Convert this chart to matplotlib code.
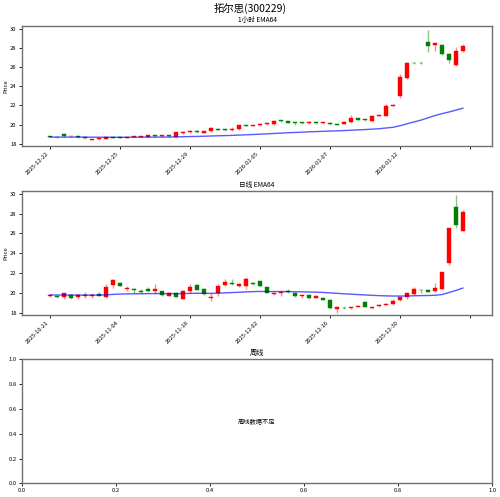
import matplotlib
matplotlib.use("Agg")
import matplotlib.pyplot as plt
import numpy as np
import pandas as pd

plt.rcParams['font.family'] = ['Noto Sans CJK SC', 'DejaVu Sans']
plt.rcParams['axes.unicode_minus'] = False

title = "拓尔思(300229)"

# ---- hourly (1小时) OHLC ----
h_open  = [18.72, 18.70, 19.00, 18.75, 18.75, 18.65, 18.40, 18.45, 18.50, 18.65,
           18.65, 18.60, 18.70, 18.72, 18.70, 18.90, 18.75, 18.90, 18.70, 19.10,
           19.20, 19.35, 19.15, 19.30, 19.55, 19.50, 19.45, 19.50, 19.90, 19.85,
           19.90, 20.05, 20.05, 20.40, 20.35, 20.20, 20.20, 20.15, 20.20, 20.15,
           20.20, 20.05, 20.10, 20.25, 20.65, 20.50, 20.35, 20.90, 20.90, 21.95,
           22.95, 24.90, 26.45, 26.45, 28.65, 28.30, 28.35, 27.35, 26.20, 27.65]
h_high  = [18.75, 18.72, 19.10, 18.82, 18.78, 18.68, 18.52, 18.58, 18.70, 18.68,
           18.68, 18.72, 18.78, 18.82, 18.90, 18.95, 18.95, 18.95, 19.25, 19.30,
           19.40, 19.40, 19.35, 19.70, 19.60, 19.55, 19.70, 20.00, 19.95, 19.95,
           20.20, 20.15, 20.45, 20.45, 20.40, 20.25, 20.25, 20.35, 20.35, 20.25,
           20.25, 20.10, 20.40, 21.00, 20.70, 20.55, 21.00, 21.15, 22.10, 22.10,
           25.30, 26.50, 26.50, 26.50, 29.85, 28.55, 28.45, 27.45, 28.10, 28.45]
h_low   = [18.65, 18.62, 18.70, 18.72, 18.62, 18.52, 18.35, 18.40, 18.45, 18.55,
           18.55, 18.55, 18.65, 18.68, 18.65, 18.70, 18.70, 18.70, 18.65, 19.05,
           19.15, 19.15, 19.10, 19.25, 19.40, 19.35, 19.35, 19.40, 19.80, 19.80,
           19.80, 20.00, 20.00, 20.30, 20.15, 20.00, 20.10, 20.10, 20.10, 20.10,
           20.00, 19.95, 20.05, 20.20, 20.45, 20.40, 20.30, 20.85, 20.85, 21.90,
           22.75, 24.75, 26.35, 26.35, 27.55, 27.70, 27.25, 26.45, 26.15, 27.60]
h_close = [18.68, 18.65, 18.75, 18.80, 18.65, 18.55, 18.50, 18.55, 18.65, 18.60,
           18.60, 18.70, 18.75, 18.80, 18.85, 18.75, 18.90, 18.75, 19.20, 19.25,
           19.35, 19.20, 19.30, 19.65, 19.45, 19.45, 19.55, 19.95, 19.85, 19.90,
           20.05, 20.10, 20.35, 20.35, 20.20, 20.15, 20.15, 20.30, 20.15, 20.20,
           20.05, 20.00, 20.30, 20.70, 20.50, 20.45, 20.90, 21.00, 21.95, 22.05,
           25.00, 26.45, 26.40, 26.40, 28.25, 28.50, 27.35, 26.75, 27.70, 28.20]
h_tick_labels = ["2025-12-22", "2025-12-25", "2025-12-29", "2026-01-05",
                 "2026-01-07", "2026-01-12"]

# ---- daily (日线) OHLC ----
d_open  = [19.70, 19.65, 19.55, 19.80, 19.55, 19.65, 19.70, 19.85, 19.55, 20.85,
           21.05, 20.40, 20.40, 20.15, 20.35, 20.20, 20.15, 19.70, 20.00, 19.40,
           20.15, 20.85, 20.40, 19.50, 19.95, 20.80, 21.00, 20.75, 20.75, 21.00,
           21.20, 20.60, 19.90, 20.00, 20.15, 20.00, 19.65, 19.80, 19.50, 19.50,
           19.30, 18.40, 18.50, 18.45, 18.60, 19.05, 18.45, 18.65, 18.80, 18.85,
           19.25, 19.55, 19.90, 20.30, 20.25, 20.20, 20.40, 23.00, 28.65, 26.25]
d_high  = [19.90, 19.70, 20.00, 19.85, 19.90, 20.10, 20.00, 20.10, 20.90, 21.45,
           21.15, 20.70, 20.45, 20.40, 20.60, 20.90, 20.20, 20.05, 20.05, 20.30,
           20.90, 20.90, 20.45, 20.00, 20.90, 21.40, 21.40, 21.00, 21.65, 21.10,
           21.25, 20.65, 20.05, 20.20, 20.35, 20.05, 19.85, 19.85, 19.75, 19.55,
           19.35, 18.70, 18.65, 18.60, 18.75, 19.15, 18.60, 18.85, 18.95, 19.35,
           19.60, 20.05, 20.55, 20.35, 20.40, 21.00, 22.15, 26.55, 29.90, 28.40]
d_low   = [19.60, 19.50, 19.40, 19.35, 19.40, 19.50, 19.50, 19.65, 19.50, 20.50,
           20.70, 20.20, 20.00, 19.95, 20.10, 19.90, 19.70, 19.65, 19.55, 19.40,
           20.00, 20.25, 19.80, 19.20, 19.70, 20.70, 20.85, 20.60, 20.40, 20.80,
           20.65, 19.95, 19.75, 19.70, 20.00, 19.60, 19.50, 19.40, 19.45, 19.25,
           18.40, 18.00, 18.35, 18.40, 18.55, 18.55, 18.40, 18.60, 18.75, 18.80,
           19.20, 19.35, 19.80, 20.00, 20.05, 20.05, 20.35, 22.85, 26.50, 26.20]
d_close = [19.80, 19.55, 20.00, 19.45, 19.75, 19.80, 19.80, 19.70, 20.60, 21.35,
           20.75, 20.50, 20.30, 20.05, 20.20, 20.35, 19.80, 20.00, 19.60, 20.20,
           20.65, 20.30, 19.85, 19.60, 20.70, 21.15, 20.90, 20.90, 21.45, 20.90,
           20.70, 20.00, 20.00, 20.10, 20.05, 19.65, 19.80, 19.45, 19.70, 19.30,
           18.45, 18.60, 18.45, 18.55, 18.70, 18.60, 18.55, 18.80, 18.90, 19.20,
           19.55, 19.95, 20.35, 20.25, 20.10, 20.50, 22.10, 26.50, 26.80, 28.20]
d_tick_labels = ["2025-10-21", "2025-11-04", "2025-11-18", "2025-12-02",
                 "2025-12-16", "2025-12-30"]

UP = '#ff0000'
DOWN = '#008000'


def candles(ax, o, h, l, c, labels, sub):
    o = np.array(o); h = np.array(h); l = np.array(l); c = np.array(c)
    x = np.arange(len(o))
    up = c >= o
    cols = np.where(up, UP, DOWN)
    body = np.maximum(np.abs(c - o), 0.08)
    bottom = np.minimum(o, c)
    ax.vlines(x, l, h, colors=cols, linewidth=1.0, alpha=0.45, zorder=2)
    ax.bar(x, body, width=0.6, bottom=bottom, color=cols, edgecolor=cols,
           linewidth=0.3, zorder=3)
    ema = pd.Series(c).ewm(span=64, adjust=False).mean()
    ax.plot(x, ema, color='blue', linewidth=1.0, alpha=0.65, zorder=4)
    ax.set_xlim(-4.05, 63.2)
    ax.set_ylim(17.75, 30.3)
    ax.set_yticks([18, 20, 22, 24, 26, 28, 30])
    ticks = list(range(0, 61, 10))
    ax.set_xticks(ticks)
    ax.set_xticklabels(labels + [""] * (len(ticks) - len(labels)),
                       rotation=45, ha='right', rotation_mode='default')
    ax.set_ylabel("Price", fontsize=4.2, labelpad=1)
    ax.set_title(sub, fontsize=4.8, pad=3)


fig = plt.figure(figsize=(5, 4.97), dpi=100)
ax1 = fig.add_axes([0.0434, 0.7062, 0.9412, 0.2415])
ax2 = fig.add_axes([0.0434, 0.3656, 0.9412, 0.2507])
ax3 = fig.add_axes([0.0434, 0.0275, 0.9412, 0.2495])

candles(ax1, h_open, h_high, h_low, h_close, h_tick_labels, "1小时 EMA64")
candles(ax2, d_open, d_high, d_low, d_close, d_tick_labels, "日线 EMA64")

ax3.set_title("周线", fontsize=5.2, pad=3)
ax3.text(0.5, 0.5, "周线数据不足", ha='center', va='center',
         fontsize=4.5, transform=ax3.transAxes)

for ax in (ax1, ax2, ax3):
    ax.tick_params(labelsize=4.2, length=2.5, width=0.6, pad=1.2)
    for s in ax.spines.values():
        s.set_color('#707070')
        s.set_linewidth(1.0)

fig.suptitle(title, fontsize=7.5, y=0.995)
fig.savefig("out.png", dpi=100)
